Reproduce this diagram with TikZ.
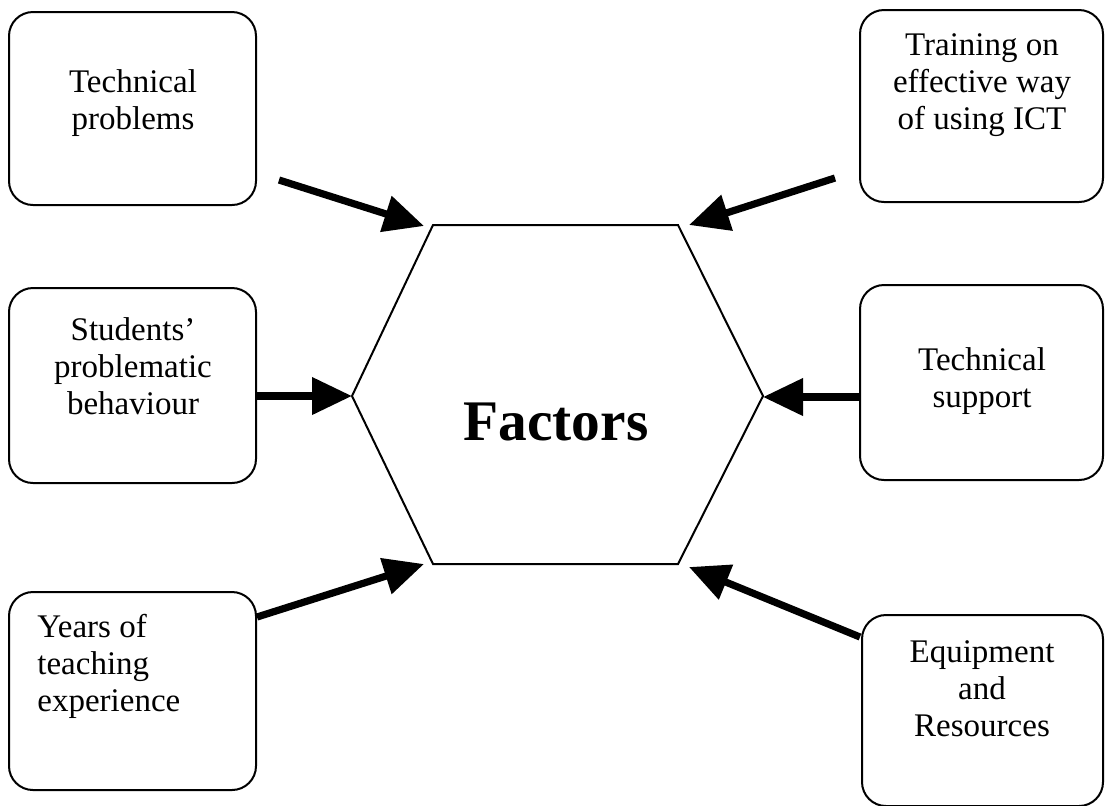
\documentclass[tikz,border=0pt]{standalone}
\usepackage{fontspec}
\setmainfont{Liberation Serif}
\usetikzlibrary{arrows.meta}
\tikzset{
  factorbox/.style={draw, line width=1pt, rounded corners=12pt, inner sep=0pt},
  boxtext/.style={align=center, inner sep=0pt, font=\fontsize{16.5}{18.5}\selectfont},
  push/.style={line width=3.6pt, -{Triangle[length=20pt,width=18pt]}},
}
\begin{document}
\begin{tikzpicture}[x=0.5pt, y=-0.5pt]
\useasboundingbox (0,0) rectangle (1106,805);

% boxes
\draw[factorbox] (9,12)   rectangle (256,205) coordinate (tlbr);
\draw[factorbox] (860,10) rectangle (1103,202);
\draw[factorbox] (9,288)  rectangle (256,483);
\draw[factorbox] (860,285) rectangle (1103,480);
\draw[factorbox] (9,592)  rectangle (256,790);
\draw[factorbox] (862,615) rectangle (1103,806);

% box texts
\node[boxtext] (tp) at (133,103) {Technical\\problems};
\node[boxtext] (tr) at (982,85) {Training on\\effective way\\of using ICT};
\node[boxtext] (sb) at (133,366) {Students'\\problematic\\behaviour};
\node[boxtext] (ts) at (982,381) {Technical\\support};
\node[boxtext, align=left, anchor=west] (ye) at (37,666) {Years of\\teaching\\experience};
\node[boxtext] (er) at (982,689) {Equipment\\and\\Resources};

% central hexagon
\coordinate (h1) at (433,225);
\coordinate (h2) at (678,225);
\coordinate (h3) at (763,396);
\coordinate (h4) at (678,564);
\coordinate (h5) at (433,564);
\coordinate (h6) at (352,396);
\draw[line width=1pt, line join=miter] (h1) -- (h2) -- (h3) -- (h4) -- (h5) -- (h6) -- cycle;
\node[anchor=base, inner sep=0pt, font=\fontsize{28.7}{30}\selectfont\bfseries] (fac) at (556,440) {Factors};

% arrow ends
\coordinate (a1s) at (279,180);  \coordinate (a1e) at (424,226);
\coordinate (a2s) at (835,178);  \coordinate (a2e) at (689,225);
\coordinate (a3s) at (256,396);  \coordinate (a3e) at (352,396);
\coordinate (a4s) at (860,397);  \coordinate (a4e) at (763,397);
\coordinate (a5s) at (257,617);  \coordinate (a5e) at (424,564);
\coordinate (a6s) at (860,637);  \coordinate (a6e) at (689,567);

\draw[push] (a1s) -- (a1e);
\draw[push] (a2s) -- (a2e);
\draw[push] (a3s) -- (a3e);
\draw[push] (a4s) -- (a4e);
\draw[push] (a5s) -- (a5e);
\draw[push] (a6s) -- (a6e);
\end{tikzpicture}
\end{document}
